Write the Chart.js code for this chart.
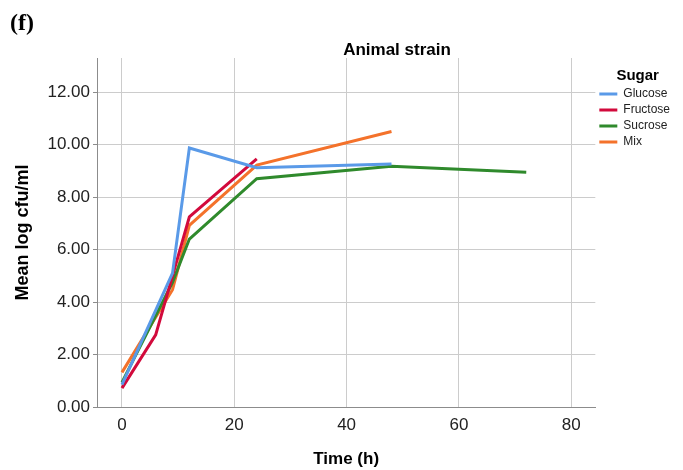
<!DOCTYPE html>
<html>
<head>
<meta charset="utf-8">
<script src="https://cdn.jsdelivr.net/npm/chart.js@4/dist/chart.umd.min.js"></script>
<style>
  html, body { margin: 0; padding: 0; background: #fff; }
  #wrap { position: relative; width: 683px; height: 470px; }
  #panel { position: absolute; left: 10px; top: 9px; font: bold 24px "Liberation Serif", serif; color: #000; }
  #ttl { position: absolute; left: 0; width: 794px; top: 40px; text-align: center; font: bold 17px "Liberation Sans", Arial, sans-serif; color: #000; line-height: 20px; }
</style>
</head>
<body>
<div id="wrap">
  <canvas id="c" width="683" height="470"></canvas>
  <div id="panel">(f)</div>
  <div id="ttl">Animal strain</div>
</div>
<script>
// ---- data ----
const seriesNames = ["Glucose", "Fructose", "Sucrose", "Mix"];
const glucoseTime = [0, 9, 12, 24, 48];
const glucoseCfu  = [0.85, 5.1, 9.87, 9.12, 9.26];
const fructoseTime = [0, 6, 12, 24];
const fructoseCfu  = [0.72, 2.75, 7.25, 9.46];
const sucroseTime = [0, 9, 12, 24, 48, 72];
const sucroseCfu  = [0.94, 4.75, 6.4, 8.7, 9.17, 8.95];
const mixTime = [0, 9, 12, 24, 48];
const mixCfu  = [1.32, 4.47, 6.92, 9.22, 10.5];
const xTicks = [0, 20, 40, 60, 80];
const yTicks = [0, 2, 4, 6, 8, 10, 12];
const colors = ["#5a9ae8", "#d20a3c", "#2f8a2c", "#f4722b"];

function pts(t, v) { return t.map((x, i) => ({ x: x, y: v[i] })); }
const allSeries = [pts(glucoseTime, glucoseCfu), pts(fructoseTime, fructoseCfu), pts(sucroseTime, sucroseCfu), pts(mixTime, mixCfu)];

const font = "'Liberation Sans', Arial, sans-serif";

new Chart(document.getElementById('c'), {
  type: 'line',
  data: {
    datasets: allSeries.map((d, i) => ({
      label: seriesNames[i],
      data: d,
      borderColor: colors[i],
      backgroundColor: colors[i],
      borderWidth: 3,
      pointRadius: 0,
      pointStyle: 'line',
      tension: 0,
      fill: false
    }))
  },
  options: {
    responsive: false,
    animation: false,
    layout: { padding: { top: 58, right: 3, left: 12, bottom: 0 } },
    plugins: {
      title: { display: false },
      tooltip: { enabled: false },
      legend: {
        position: 'right',
        align: 'start',
        title: { display: true, text: 'Sugar', color: '#000', font: { family: font, size: 15, weight: 'bold', lineHeight: 1 }, padding: { top: 10, bottom: 1 } },
        labels: {
          usePointStyle: true,
          pointStyleWidth: 18,
          boxHeight: 12,
          padding: 4,
          color: '#222',
          font: { family: font, size: 12 }
        }
      }
    },
    scales: {
      x: {
        type: 'linear',
        min: -4.45,
        max: 84.3,
        afterBuildTicks: s => { s.ticks = xTicks.map(v => ({ value: v })); },
        afterFit: s => { s.height = 63; },
        ticks: { color: '#222', font: { family: font, size: 17 }, padding: 8, maxRotation: 0 },
        grid: { color: '#cccccc', lineWidth: 1, drawTicks: false },
        border: { display: true, color: '#8c8c8c', width: 1 },
        title: { display: true, text: 'Time (h)', color: '#000', font: { family: font, size: 17, weight: 'bold' }, padding: { top: 10, bottom: 0 } }
      },
      y: {
        type: 'linear',
        min: 0,
        max: 13.3,
        afterBuildTicks: s => { s.ticks = yTicks.map(v => ({ value: v })); },
        afterFit: s => { s.width = 85; },
        ticks: { color: '#222', font: { family: font, size: 17 }, padding: 3, callback: v => Number(v).toFixed(2) },
        grid: { color: '#cccccc', lineWidth: 1, tickLength: 4, tickColor: '#8c8c8c' },
        border: { display: true, color: '#8c8c8c', width: 1 },
        title: { display: true, text: 'Mean log cfu/ml', color: '#000', font: { family: font, size: 18, weight: 'bold' }, padding: { top: 0, bottom: 6 } }
      }
    }
  }
});
</script>
</body>
</html>
